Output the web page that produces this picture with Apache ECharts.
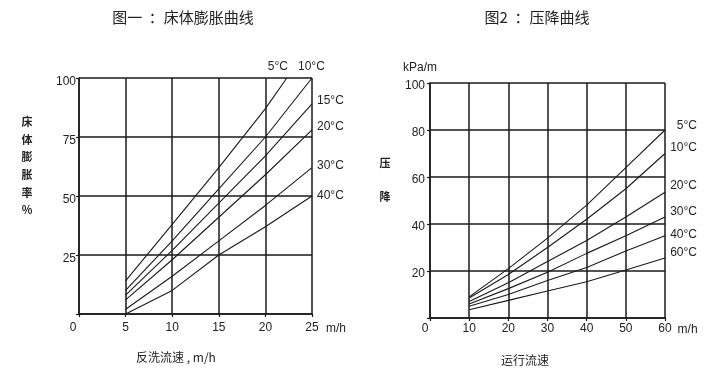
<!DOCTYPE html>
<html>
<head>
<meta charset="utf-8">
<script src="https://cdn.jsdelivr.net/npm/echarts@6/dist/echarts.min.js"></script>
<style>
html,body{margin:0;padding:0;background:#fff;}
#chart{width:714px;height:377px;}
</style>
</head>
<body>
<div id="chart"></div>
<script>
// 图一 床体膨胀曲线 : [反洗流速 m/h, 膨胀率 %]
var bedNames = ['5°C', '10°C', '15°C', '20°C', '30°C', '40°C'];
var bed5  = [[5, 14], [10, 38], [15, 62], [20, 87], [22.3, 100]];
var bed10 = [[5, 10], [10, 31], [15, 53], [20, 75], [25, 100]];
var bed15 = [[5, 8], [10, 27], [15, 47], [20, 67], [25, 89]];
var bed20 = [[5, 6], [10, 23], [15, 41], [20, 59], [25, 78]];
var bed30 = [[5, 2], [10, 16], [15, 31], [20, 46], [25, 62]];
var bed40 = [[5, 0], [10, 10], [15, 25], [20, 37], [25, 50]];
var bedTicksX = [0, 25, 5];   // min, max, interval
var bedTicksY = [0, 100, 25];

// 图2 压降曲线 : [运行流速 m/h, 压降 kPa/m]
var dropNames = ['5°C', '10°C', '20°C', '30°C', '40°C', '60°C'];
var dropX = [10, 20, 30, 40, 50, 60];
var drop5  = [9, 21, 34, 48, 64, 80];
var drop10 = [8.5, 18.5, 30, 42, 55, 70];
var drop20 = [7, 15, 24, 33, 43, 53.5];
var drop30 = [6, 12.5, 19.5, 27.5, 35, 43];
var drop40 = [5, 10, 16, 21.5, 28.5, 35];
var drop60 = [3.5, 7.5, 11.5, 15.4, 20.4, 25.5];
var dropTicksX = [0, 60, 10];
var dropTicksY = [0, 100, 20];

var chart = echarts.init(document.getElementById('chart'));

var ink = '#1a1a1a';
var numFont = 'Liberation Sans, Arial, sans-serif';
var cjkFont = '"Noto Sans CJK SC", sans-serif';

// 曲线末端标注的偏移
var bedLabelOffset = [[-19, -11], [-14, -11], [5, -3], [5, -3], [5, -2], [5, 0]];
var dropLabelOffset = [[32, -4], [32, -6], [32, -7], [32, -5], [32, -1], [32, -5]];

function axisBase(ticks, extra) {
  var a = {
    type: 'value',
    min: ticks[0], max: ticks[1], interval: ticks[2],
    axisLine: {show: true, onZero: false, lineStyle: {color: ink, width: 1.5}},
    axisTick: {show: true, length: 3, lineStyle: {color: ink, width: 1.2}},
    splitLine: {show: true, lineStyle: {color: ink, width: 1.5}},
    axisLabel: {color: '#222', fontSize: 12, fontFamily: numFont}
  };
  for (var k in extra) a[k] = extra[k];
  return a;
}

function curve(name, data, xi, offset, align) {
  return {
    name: name, type: 'line', xAxisIndex: xi, yAxisIndex: xi,
    data: data, showSymbol: false, symbol: 'none', silent: true,
    lineStyle: {color: ink, width: 1.1},
    endLabel: {
      show: true, formatter: '{a}', distance: 0, align: align,
      offset: offset, color: '#222', fontSize: 12, fontFamily: numFont
    }
  };
}

var bedData = [bed5, bed10, bed15, bed20, bed30, bed40];
var dropData = [drop5, drop10, drop20, drop30, drop40, drop60];
var series = [];
bedData.forEach(function (d, i) {
  series.push(curve(bedNames[i], d, 0, bedLabelOffset[i], 'left'));
});
dropData.forEach(function (d, i) {
  var pts = dropX.map(function (x, j) { return [x, d[j]]; });
  series.push(curve(dropNames[i], pts, 1, dropLabelOffset[i], 'right'));
});

function zeroLeft(pad) {
  return {
    formatter: function (v) { return v === 0 ? '{z|0}' : String(v); },
    rich: {z: {fontSize: 12, fontFamily: numFont, color: '#222', padding: [0, pad, 0, 0]}}
  };
}

var option = {
  animation: false,
  backgroundColor: '#fff',
  title: [
    {text: '图一  ：床体膨胀曲线', left: 178, top: 5, textAlign: 'center',
     textStyle: {fontSize: 15, fontWeight: 'normal', color: '#222', fontFamily: cjkFont}},
    {text: '图2  ：压降曲线', left: 532, top: 5, textAlign: 'center',
     textStyle: {fontSize: 15, fontWeight: 'normal', color: '#222', fontFamily: cjkFont}}
  ],
  grid: [
    {left: 79, right: 402, top: 78, bottom: 63},
    {left: 430, right: 49, top: 83, bottom: 59}
  ],
  xAxis: [
    axisBase(bedTicksX, {gridIndex: 0,
      name: 'm/h', nameLocation: 'end', nameGap: 14,
      nameTextStyle: {color: '#222', fontSize: 12, fontFamily: numFont,
        verticalAlign: 'top', lineHeight: 30},
      axisLabel: Object.assign({color: '#222', fontSize: 12, fontFamily: numFont, margin: 8}, zeroLeft(12))
    }),
    axisBase(dropTicksX, {gridIndex: 1,
      name: 'm/h', nameLocation: 'end', nameGap: 12,
      nameTextStyle: {color: '#222', fontSize: 12, fontFamily: numFont,
        verticalAlign: 'top', lineHeight: 24},
      axisLabel: Object.assign({color: '#222', fontSize: 12, fontFamily: numFont, margin: 5}, zeroLeft(10))
    })
  ],
  yAxis: [
    axisBase(bedTicksY, {gridIndex: 0,
      axisLabel: {color: '#222', fontSize: 12, fontFamily: numFont, margin: 3,
        verticalAlign: 'top', lineHeight: 8,
        formatter: function (v) { return v === 0 ? '' : String(v); }}
    }),
    axisBase(dropTicksY, {gridIndex: 1,
      axisLabel: {color: '#222', fontSize: 12, fontFamily: numFont, margin: 5,
        verticalAlign: 'top', lineHeight: 5,
        formatter: function (v) { return v === 0 ? '' : String(v); }}
    })
  ],
  graphic: [
    {type: 'text', x: 27, y: 166,
     style: {text: '床\n体\n膨\n胀\n率\n%', fill: '#222', fontSize: 11, fontWeight: 'bold',
       fontFamily: cjkFont, lineHeight: 17.6, align: 'center', verticalAlign: 'middle'}},
    {type: 'text', x: 385, y: 180,
     style: {text: '压\n\n降', fill: '#222', fontSize: 11, fontWeight: 'bold',
       fontFamily: cjkFont, lineHeight: 17, align: 'center', verticalAlign: 'middle'}},
    {type: 'text', x: 176, y: 357,
     style: {text: '反洗流速 , m/h', fill: '#222', fontSize: 12, fontFamily: cjkFont,
       align: 'center', verticalAlign: 'middle'}},
    {type: 'text', x: 525, y: 360,
     style: {text: '运行流速', fill: '#222', fontSize: 12, fontFamily: cjkFont,
       align: 'center', verticalAlign: 'middle'}},
    {type: 'text', x: 420, y: 68,
     style: {text: 'kPa/m', fill: '#222', fontSize: 12, fontFamily: numFont,
       align: 'center', verticalAlign: 'middle'}}
  ],
  series: series
};

chart.setOption(option);
</script>
</body>
</html>
